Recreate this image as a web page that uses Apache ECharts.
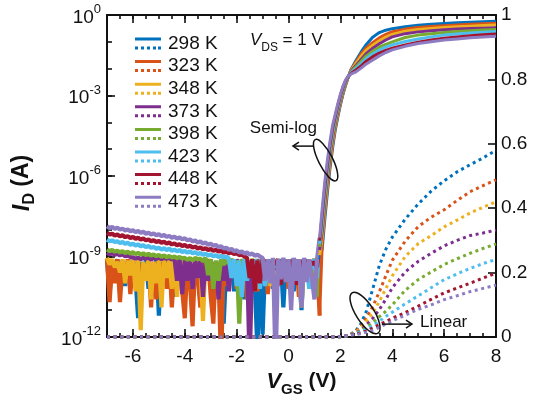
<!DOCTYPE html>
<html>
<head>
<meta charset="utf-8">
<script src="https://cdn.jsdelivr.net/npm/echarts@6/dist/echarts.min.js"></script>
<style>
  html, body { margin: 0; padding: 0; background: #fff; }
  #chart { width: 541px; height: 407px; }
</style>
</head>
<body>
<div id="chart"></div>
<script>
// Transfer curves I_D–V_GS at V_DS = 1 V for eight temperatures.
const temps  = ['298 K', '323 K', '348 K', '373 K', '398 K', '423 K', '448 K', '473 K'];
const colors = ['#0072BD', '#D95319', '#EDB120', '#7E2F8E', '#77AC30', '#4DBEEE', '#A2142F', '#8E7CC3'];

// Low-current part of the sweep: V_GS from -7.0 to 2.3 V in 0.1 V steps (94 points).
const vgsLow = Array.from({ length: 94 }, (_, i) => Math.round((-7 + 0.1 * i) * 10) / 10);
// Index in vgsLow where the off-state noise ends and the subthreshold rise starts (V_GS = 1.2 V).
const RISE_START = 82;
// Values in this part are log10(I_D / A): off-state leakage/noise floor, then the subthreshold rise.
const logLow298 = [
  -9.1, -10.4, -9.2, -9.6, -9.1, -9.9, -9.15, -10.1, -9.3, -9.7,
  -9.1, -9.8, -11.3, -9.2, -9.9, -9.1, -10.2, -9.4, -9.8, -9.1,
  -11.2, -9.2, -9.7, -9.1, -10.0, -9.3, -10.5, -9.1, -9.8, -9.2,
  -10.1, -9.1, -9.7, -10.8, -9.2, -9.6, -9.1, -10.2, -9.3, -9.9,
  -9.1, -10.4, -9.2, -9.8, -9.1, -11.5, -9.3, -9.7, -9.1, -10.3,
  -9.2, -9.9, -9.1, -10.6, -9.3, -9.8, -9.1, -10.0, -12.5, -9.2,
  -11.9, -9.2, -9.8, -9.1, -10.2, -9.3, -9.7, -9.1, -10.9, -9.2,
  -9.9, -9.1, -10.3, -9.2, -9.6, -11.0, -9.1, -9.8, -9.2, -10.1,
  -9.1, -9.6,
  -9.1, -8.7, -7.6, -6.6, -5.7, -4.95, -4.3, -3.8, -3.35, -2.95, -2.62, -2.33
];
const logLow323 = [
  -9.1, -10.7, -9.2, -10.0, -9.1, -10.7, -9.3, -9.8, -9.1, -10.4,
  -9.2, -9.9, -9.1, -10.2, -9.3, -9.8, -9.1, -10.9, -9.2, -10.6,
  -9.1, -9.8, -9.2, -10.2, -9.1, -10.9, -9.3, -9.7, -9.1, -10.3,
  -11.3, -9.2, -10.0, -11.6, -9.1, -9.8, -10.9, -9.2, -9.7, -9.1,
  -10.5, -11.5, -9.2, -9.8, -13.0, -9.1, -10.1, -9.3, -9.7, -9.1,
  -10.2, -9.2, -9.8, -9.1, -10.6, -9.3, -9.9, -9.1, -10.3, -9.2,
  -9.8, -9.1, -10.4, -9.2, -9.7, -9.1, -10.1, -9.3, -9.8, -9.1,
  -10.2, -9.2, -9.7, -9.1, -10.5, -9.3, -9.9, -9.1, -10.0, -9.2,
  -9.8, -9.2,
  -11.2, -8.49, -7.4, -6.43, -5.56, -4.83, -4.21, -3.73, -3.29, -2.91, -2.59, -2.32
];
const logLow348 = [
  -9.05, -9.3, -9.1, -9.4, -9.2, -9.6, -9.1, -10.0, -9.15, -9.7,
  -9.05, -10.3, -9.1, -11.75, -9.2, -9.9, -9.1, -10.6, -9.2, -10.0,
  -9.05, -10.9, -9.1, -9.8, -9.15, -10.2, -9.1, -10.5, -9.2, -9.7,
  -9.05, -9.6, -9.2, -10.1, -9.1, -9.8, -9.3, -11.4, -9.1, -9.7,
  -9.1, -9.9, -9.2, -10.2, -9.1, -9.7, -9.3, -10.0, -9.1, -9.6,
  -9.2, -10.1, -9.1, -9.8, -9.3, -9.7, -9.1, -10.3, -9.2, -9.6,
  -9.1, -9.9, -9.2, -10.1, -9.1, -9.7, -9.3, -10.0, -9.1, -9.8,
  -9.2, -9.7, -9.1, -10.0, -9.3, -10.9, -9.1, -9.8, -9.2, -9.6,
  -9.1, -9.7,
  -8.95, -8.27, -7.2, -6.26, -5.41, -4.71, -4.13, -3.66, -3.24, -2.86, -2.56, -2.32
];
const logLow373 = [
  -8.86, -8.92, -8.87, -8.94, -8.89, -8.96, -8.92, -8.99, -8.96, -9.02,
  -9.03, -9.08, -9.04, -9.1, -9.05, -9.08, -9.04, -9.12, -9.05, -9.09,
  -9.04, -9.1, -9.05, -9.08, -9.04, -9.12, -9.05, -9.9, -9.1, -10.4,
  -9.1, -9.9, -9.05, -10.2, -9.15, -9.8, -9.1, -10.5, -9.1, -9.9,
  -9.1, -10.0, -9.2, -10.6, -9.1, -9.9, -9.15, -10.3, -9.1, -9.8,
  -9.1, -9.6, -9.2, -9.5, -9.1, -13.0, -9.2, -9.6, -9.1, -9.5,
  -9.1, -9.4, -9.2, -9.6, -9.1, -9.5, -9.2, -9.4, -9.1, -9.6,
  -9.15, -9.5, -9.1, -9.4, -9.2, -9.6, -9.1, -9.5, -9.2, -9.4,
  -9.1, -9.5,
  -8.76, -8.06, -7.0, -6.09, -5.27, -4.59, -4.04, -3.59, -3.18, -2.82, -2.53, -2.31
];
const logLow398 = [
  -8.74, -8.8, -8.76, -8.82, -8.78, -8.85, -8.8, -8.87, -8.82, -8.89,
  -8.84, -8.91, -8.86, -8.93, -8.88, -8.95, -8.9, -8.97, -8.92, -8.99,
  -8.94, -9.01, -8.96, -9.03, -8.98, -9.04, -9.0, -9.06, -9.02, -9.07,
  -9.05, -9.12, -9.06, -9.15, -9.05, -9.1, -9.08, -9.18, -9.05, -9.7,
  -9.1, -10.2, -9.15, -9.9, -9.1, -9.3, -9.15, -9.25, -9.1, -9.3,
  -9.15, -11.5, -9.1, -9.3, -9.2, -9.35, -9.1, -9.3, -9.15, -9.4,
  -9.1, -9.35, -9.2, -9.3, -9.1, -9.4, -9.15, -9.3, -9.1, -9.35,
  -9.2, -9.3, -9.1, -9.4, -9.15, -9.3, -9.1, -9.35, -9.2, -9.3,
  -9.1, -10.5,
  -8.64, -7.84, -6.8, -5.91, -5.13, -4.46, -3.96, -3.51, -3.12, -2.78, -2.51, -2.3
];
const logLow423 = [
  -8.37, -8.43, -8.40, -8.46, -8.43, -8.50, -8.46, -8.53, -8.49, -8.56,
  -8.52, -8.59, -8.55, -8.62, -8.58, -8.65, -8.61, -8.68, -8.64, -8.71,
  -8.67, -8.74, -8.69, -8.76, -8.71, -8.79, -8.74, -8.81, -8.76, -8.83,
  -8.79, -8.86, -8.81, -8.88, -8.84, -8.91, -8.87, -8.94, -8.89, -8.97,
  -8.92, -8.99, -8.95, -9.02, -8.97, -9.04, -9.0, -9.07, -9.8, -9.1,
  -10.1, -9.15, -10.5, -9.1, -9.9, -9.2, -9.3, -9.15, -9.25, -10.2,
  -9.1, -10.1, -9.2, -9.3, -9.1, -9.35, -9.15, -9.3, -9.1, -9.4,
  -9.2, -9.3, -9.1, -9.35, -9.15, -9.3, -9.1, -9.4, -10.2, -9.2,
  -9.15, -9.8,
  -8.53, -7.63, -6.6, -5.74, -4.99, -4.34, -3.87, -3.44, -3.06, -2.74, -2.48, -2.29
];
const logLow448 = [
  -8.12, -8.18, -8.15, -8.22, -8.18, -8.25, -8.21, -8.28, -8.24, -8.31,
  -8.27, -8.34, -8.30, -8.37, -8.33, -8.40, -8.36, -8.43, -8.39, -8.46,
  -8.42, -8.49, -8.45, -8.52, -8.48, -8.55, -8.51, -8.58, -8.54, -8.61,
  -8.57, -8.64, -8.60, -8.67, -8.63, -8.70, -8.66, -8.73, -8.69, -8.76,
  -8.72, -8.79, -8.75, -8.82, -8.78, -8.85, -8.81, -8.88, -8.84, -8.91,
  -8.87, -8.95, -8.93, -9.0, -9.05, -9.8, -9.1, -10.3, -9.15, -10.0,
  -9.1, -9.3, -9.15, -9.35, -9.2, -9.3, -9.1, -10.05, -9.2, -9.3,
  -9.15, -9.35, -9.1, -10.05, -9.2, -9.3, -9.1, -9.35, -9.15, -9.3,
  -9.2, -9.4,
  -8.41, -7.41, -6.4, -5.57, -4.84, -4.22, -3.79, -3.37, -3.0, -2.69, -2.45, -2.29
];
const logLow473 = [
  -7.87, -7.94, -7.90, -7.97, -7.93, -8.00, -7.96, -8.03, -7.99, -8.06,
  -8.02, -8.09, -8.05, -8.12, -8.08, -8.15, -8.11, -8.18, -8.14, -8.21,
  -8.17, -8.24, -8.20, -8.27, -8.23, -8.30, -8.26, -8.33, -8.29, -8.36,
  -8.32, -8.40, -8.36, -8.44, -8.40, -8.48, -8.44, -8.52, -8.48, -8.56,
  -8.52, -8.60, -8.57, -8.65, -8.62, -8.70, -8.67, -8.75, -8.72, -8.80,
  -8.77, -8.85, -8.81, -8.89, -8.85, -8.93, -8.89, -8.97, -8.93, -9.0,
  -9.05, -9.9, -9.1, -10.0, -9.05, -13.0, -9.1, -9.85, -9.05, -9.95,
  -9.1, -11.0, -9.05, -9.9, -9.1, -10.9, -9.05, -9.95, -9.1, -9.8,
  -10.6, -9.1,
  -8.3, -7.2, -6.2, -5.4, -4.7, -4.1, -3.7, -3.3, -2.95, -2.65, -2.42, -2.28
];

// On-state part of the sweep, I_D in A.
const vgsOn = [2.4, 2.6, 2.8, 3.0, 3.25, 3.5, 3.75, 4.0, 4.5, 5.0, 5.5, 6.0, 6.5, 7.0, 7.5, 8.0];
const on298 = [0.0089, 0.02, 0.042, 0.08, 0.15, 0.222, 0.272, 0.31, 0.366, 0.413, 0.453, 0.485, 0.513, 0.535, 0.556, 0.58];
const on323 = [0.0085, 0.0176, 0.035, 0.06, 0.095, 0.14, 0.19, 0.238, 0.298, 0.343, 0.372, 0.395, 0.424, 0.451, 0.47, 0.488];
const on348 = [0.0081, 0.0157, 0.029, 0.049, 0.075, 0.11, 0.15, 0.19, 0.25, 0.29, 0.315, 0.342, 0.363, 0.385, 0.403, 0.42];
const on373 = [0.0078, 0.013, 0.022, 0.037, 0.058, 0.085, 0.117, 0.153, 0.202, 0.235, 0.26, 0.283, 0.3, 0.315, 0.323, 0.332];
const on398 = [0.0074, 0.0118, 0.019, 0.03, 0.045, 0.063, 0.08, 0.1, 0.145, 0.178, 0.202, 0.225, 0.243, 0.26, 0.275, 0.289];
const on423 = [0.0071, 0.0102, 0.0155, 0.024, 0.036, 0.049, 0.064, 0.077, 0.103, 0.128, 0.153, 0.178, 0.196, 0.213, 0.228, 0.241];
const on448 = [0.0066, 0.0089, 0.0126, 0.019, 0.028, 0.038, 0.048, 0.058, 0.076, 0.096, 0.117, 0.137, 0.152, 0.167, 0.183, 0.198];
const on473 = [0.0062, 0.0076, 0.0105, 0.015, 0.021, 0.03, 0.04, 0.05, 0.068, 0.086, 0.1, 0.116, 0.128, 0.141, 0.151, 0.161];

// Axis tick values
const xMajorTicks = [-6, -4, -2, 0, 2, 4, 6, 8];

const logLows = [logLow298, logLow323, logLow348, logLow373, logLow398, logLow423, logLow448, logLow473];
const ons = [on298, on323, on348, on373, on398, on423, on448, on473];

function buildCurve(logLow, on) {
  const pts = vgsLow.map((v, i) => [v, Math.pow(10, logLow[i])]);
  vgsOn.forEach((v, i) => pts.push([v, on[i]]));
  return pts;
}
const curves = logLows.map((l, i) => buildCurve(l, ons[i]));

const FONT = '"Liberation Sans", Arial, Helvetica, sans-serif';
const INK = '#111';

const chart = echarts.init(document.getElementById('chart'), null, { renderer: 'canvas' });

const axisLineStyle = { color: INK, width: 2 };
const tickStyle = { color: INK, width: 1.6 };

const legendIcon = 'path://M0,0H26V3H0Z M0,9H3V12H0Z M6,9H9V12H6Z M12,9H15V12H12Z M18,9H21V12H18Z M23,9H26V12H23Z';

// Semi-log curves: the noisy off-state stretch is drawn with a heavier stroke
const offSeries = temps.map((t, i) => ({
  name: t, type: 'line', xAxisIndex: 0, yAxisIndex: 0,
  data: curves[i].slice(0, RISE_START + 1), symbol: 'none', showSymbol: false, silent: true,
  lineStyle: { width: 4.2, color: colors[i], join: 'bevel' },
  itemStyle: { color: colors[i] },
  z: 2
}));
const onSeries = temps.map((t, i) => ({
  name: t, type: 'line', xAxisIndex: 0, yAxisIndex: 0,
  data: curves[i].slice(RISE_START), symbol: 'none', showSymbol: false, silent: true,
  lineStyle: { width: 3, color: colors[i], join: 'round' },
  itemStyle: { color: colors[i] },
  z: 2
}));
// Linear curves on the right axis
const dottedSeries = temps.map((t, i) => ({
  name: t, type: 'line', xAxisIndex: 0, yAxisIndex: 2,
  data: curves[i], symbol: 'none', showSymbol: false, silent: true,
  lineStyle: { width: 3, color: colors[i], type: [3, 3.6], cap: 'butt' },
  itemStyle: { color: colors[i] },
  z: 3
}));
const FIRST_DOTTED = offSeries.length + onSeries.length;

const titleRich = (big, sub) => ({
  i: { fontSize: big + 1, fontWeight: 'bold', fontStyle: 'italic', color: INK, fontFamily: FONT, lineHeight: big + 5, verticalAlign: 'top' },
  s: { fontSize: sub, fontWeight: 'bold', color: INK, fontFamily: FONT, lineHeight: 12, verticalAlign: 'bottom' },
  b: { fontSize: big, fontWeight: 'bold', color: INK, fontFamily: FONT, lineHeight: big + 5, verticalAlign: 'top' }
});

const option = {
  animation: false,
  backgroundColor: '#fff',
  textStyle: { fontFamily: FONT },
  grid: { left: 107, right: 45, top: 15, bottom: 70, containLabel: false },
  legend: {
    data: temps.map((t, i) => ({ name: t, icon: legendIcon, itemStyle: { color: colors[i], borderWidth: 0 } })),
    orient: 'vertical', left: 135, top: 34, padding: 0,
    itemWidth: 26, itemHeight: 12, itemGap: 3.6,
    selectedMode: false,
    textStyle: { fontSize: 19, color: INK, fontFamily: FONT, padding: [3, 0, 0, 2] }
  },
  xAxis: [
    { // bottom, minor ticks every 0.5 V
      type: 'value', min: -7, max: 8, interval: 0.5, position: 'bottom',
      axisLine: { show: true, onZero: false, lineStyle: axisLineStyle },
      axisTick: { show: true, inside: true, length: 4, lineStyle: tickStyle },
      axisLabel: { show: false }, splitLine: { show: false }
    },
    { // bottom, labelled major ticks
      type: 'value', min: -7, max: 8, position: 'bottom',
      axisLine: { show: false, onZero: false },
      axisTick: { show: true, inside: true, length: 8, customValues: xMajorTicks, lineStyle: tickStyle },
      axisLabel: { show: true, customValues: xMajorTicks, fontSize: 19, color: INK, margin: 10, fontFamily: FONT },
      splitLine: { show: false },
      name: '{i|V}{s|GS}{b| (V)}', nameLocation: 'middle', nameGap: 33,
      nameTextStyle: { rich: titleRich(21, 15) }
    },
    { // top frame, minor ticks
      type: 'value', min: -7, max: 8, interval: 0.5, position: 'top',
      axisLine: { show: true, onZero: false, lineStyle: axisLineStyle },
      axisTick: { show: true, inside: true, length: 4, lineStyle: tickStyle },
      axisLabel: { show: false }, splitLine: { show: false }
    },
    { // top frame, major ticks
      type: 'value', min: -7, max: 8, position: 'top',
      axisLine: { show: false, onZero: false },
      axisTick: { show: true, inside: true, length: 8, customValues: xMajorTicks, lineStyle: tickStyle },
      axisLabel: { show: false }, splitLine: { show: false }
    }
  ],
  yAxis: [
    { // left, log scale, a tick every decade
      type: 'log', logBase: 10, min: 1e-12, max: 1, interval: 1, position: 'left',
      axisLine: { show: true, onZero: false, lineStyle: axisLineStyle },
      axisTick: { show: true, inside: true, length: 5, lineStyle: tickStyle },
      axisLabel: { show: false }, splitLine: { show: false }
    },
    { // left, labelled every third decade
      type: 'log', logBase: 10, min: 1e-12, max: 1, interval: 3, position: 'left',
      axisLine: { show: false, onZero: false },
      axisTick: { show: true, inside: true, length: 8, lineStyle: tickStyle },
      axisLabel: {
        show: true, margin: 6,
        formatter: (v) => '{b|10}{e|' + Math.round(Math.log10(v)) + '}',
        rich: {
          b: { fontSize: 19, color: INK, fontFamily: FONT, lineHeight: 24, verticalAlign: 'bottom' },
          e: { fontSize: 13, color: INK, fontFamily: FONT, lineHeight: 12, verticalAlign: 'top' }
        }
      },
      splitLine: { show: false },
      name: '{i|I}{s|D}{b| (A)}', nameLocation: 'middle', nameGap: 69,
      nameTextStyle: { padding: [0, 14, 0, 0], rich: titleRich(23, 16) }
    },
    { // right, linear scale
      type: 'value', min: 0, max: 1, interval: 0.2, position: 'right',
      axisLine: { show: true, onZero: false, lineStyle: axisLineStyle },
      axisTick: { show: true, inside: true, length: 8, lineStyle: tickStyle },
      axisLabel: {
        show: true, fontSize: 19, color: INK, margin: 5, fontFamily: FONT,
        formatter: (v) => (v === 0 || v === 1) ? String(v) : v.toFixed(1)
      },
      splitLine: { show: false }
    }
  ],
  series: offSeries.concat(onSeries, dottedSeries)
};

chart.setOption(option);

// Annotation anchors, in axis units
const semiLogText  = [-0.2, 6.0e-5];
const semiLogArrow = [[0.95, 1.3e-5], [0.17, 1.3e-5]];
const semiLogLoop  = [1.43, 3.9e-6];
const linearLoop   = [2.95, 0.0745];
const linearArrow  = [[3.6, 0.04], [4.76, 0.04]];
const linearText   = [5.07, 0.047];
const vdsText      = [-1.49, 0.091];

const pLog = (d) => chart.convertToPixel({ seriesIndex: 0 }, d);
const pLin = (d) => chart.convertToPixel({ seriesIndex: FIRST_DOTTED }, d);

function arrow(a, b) {
  const dir = Math.sign(b[0] - a[0]);
  return [
    { type: 'line', shape: { x1: a[0], y1: a[1], x2: b[0], y2: b[1] }, style: { stroke: INK, lineWidth: 1.5 }, silent: true, z: 10 },
    { type: 'polyline', shape: { points: [[b[0] - dir * 6, b[1] - 4], [b[0], b[1]], [b[0] - dir * 6, b[1] + 4]] },
      style: { stroke: INK, lineWidth: 1.5, fill: null }, silent: true, z: 10 }
  ];
}

const sText = pLog(semiLogText);
const sA0 = pLog(semiLogArrow[0]), sA1 = pLog(semiLogArrow[1]);
const sLoop = pLog(semiLogLoop);
const lLoop = pLin(linearLoop);
const lA0 = pLin(linearArrow[0]), lA1 = pLin(linearArrow[1]);
const lText = pLin(linearText);
const vPos = pLog(vdsText);

const graphics = [
  { type: 'text', x: sText[0], y: sText[1], silent: true, z: 10,
    style: { text: 'Semi-log', font: '17px ' + FONT, fill: INK, textAlign: 'center', textVerticalAlign: 'middle' } },
  ...arrow(sA0, sA1),
  { type: 'ellipse', x: sLoop[0], y: sLoop[1], rotation: -1.1, silent: true, z: 10,
    shape: { cx: 0, cy: 0, rx: 23, ry: 7 }, style: { stroke: INK, lineWidth: 1.5, fill: null } },
  { type: 'ellipse', x: lLoop[0], y: lLoop[1], rotation: -1.0, silent: true, z: 10,
    shape: { cx: 0, cy: 0, rx: 24, ry: 9 }, style: { stroke: INK, lineWidth: 1.5, fill: null } },
  ...arrow(lA0, lA1),
  { type: 'text', x: lText[0], y: lText[1], silent: true, z: 10,
    style: { text: 'Linear', font: '17px ' + FONT, fill: INK, textAlign: 'left', textVerticalAlign: 'middle' } },
  { type: 'text', x: vPos[0], y: vPos[1], silent: true, z: 10,
    style: {
      text: '{i|V}{s|DS}{n| = 1 V}', textAlign: 'left', textVerticalAlign: 'middle',
      rich: {
        i: { fontSize: 17, fontStyle: 'italic', fill: INK, fontFamily: FONT, lineHeight: 22, verticalAlign: 'top' },
        s: { fontSize: 12, fill: INK, fontFamily: FONT, lineHeight: 10, verticalAlign: 'bottom' },
        n: { fontSize: 17, fill: INK, fontFamily: FONT, lineHeight: 22, verticalAlign: 'top' }
      }
    } }
];
chart.setOption({ graphic: graphics });
</script>
</body>
</html>
